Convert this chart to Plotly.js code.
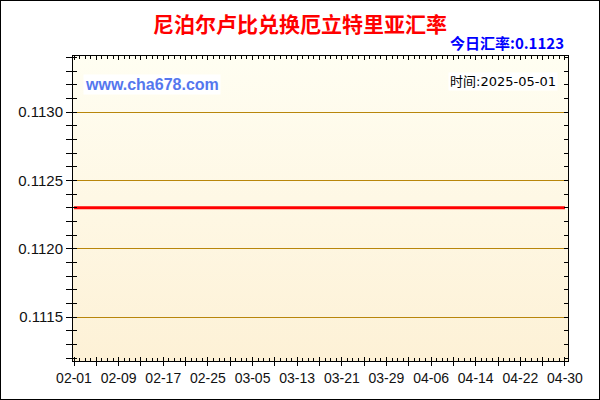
<!DOCTYPE html>
<html>
<head>
<meta charset="utf-8">
<script src="https://cdn.plot.ly/plotly-3.0.1.min.js"></script>
<style>
  body { margin: 0; background: #fff; }
  #chart { width: 598px; height: 398px; border: 1px solid #000; }
</style>
</head>
<body>
<div id="chart"></div>
<script>
// daily NPR -> ERN rate, 2025-02-01 .. 2025-04-30
const dates = [
  '2025-02-01','2025-02-02','2025-02-03','2025-02-04','2025-02-05','2025-02-06','2025-02-07',
  '2025-02-08','2025-02-09','2025-02-10','2025-02-11','2025-02-12','2025-02-13','2025-02-14',
  '2025-02-15','2025-02-16','2025-02-17','2025-02-18','2025-02-19','2025-02-20','2025-02-21',
  '2025-02-22','2025-02-23','2025-02-24','2025-02-25','2025-02-26','2025-02-27','2025-02-28',
  '2025-03-01','2025-03-02','2025-03-03','2025-03-04','2025-03-05','2025-03-06','2025-03-07',
  '2025-03-08','2025-03-09','2025-03-10','2025-03-11','2025-03-12','2025-03-13','2025-03-14',
  '2025-03-15','2025-03-16','2025-03-17','2025-03-18','2025-03-19','2025-03-20','2025-03-21',
  '2025-03-22','2025-03-23','2025-03-24','2025-03-25','2025-03-26','2025-03-27','2025-03-28',
  '2025-03-29','2025-03-30','2025-03-31',
  '2025-04-01','2025-04-02','2025-04-03','2025-04-04','2025-04-05','2025-04-06','2025-04-07',
  '2025-04-08','2025-04-09','2025-04-10','2025-04-11','2025-04-12','2025-04-13','2025-04-14',
  '2025-04-15','2025-04-16','2025-04-17','2025-04-18','2025-04-19','2025-04-20','2025-04-21',
  '2025-04-22','2025-04-23','2025-04-24','2025-04-25','2025-04-26','2025-04-27','2025-04-28',
  '2025-04-29','2025-04-30'
];
const rates = [
  0.1123,0.1123,0.1123,0.1123,0.1123,0.1123,0.1123,0.1123,0.1123,0.1123,
  0.1123,0.1123,0.1123,0.1123,0.1123,0.1123,0.1123,0.1123,0.1123,0.1123,
  0.1123,0.1123,0.1123,0.1123,0.1123,0.1123,0.1123,0.1123,0.1123,0.1123,
  0.1123,0.1123,0.1123,0.1123,0.1123,0.1123,0.1123,0.1123,0.1123,0.1123,
  0.1123,0.1123,0.1123,0.1123,0.1123,0.1123,0.1123,0.1123,0.1123,0.1123,
  0.1123,0.1123,0.1123,0.1123,0.1123,0.1123,0.1123,0.1123,0.1123,0.1123,
  0.1123,0.1123,0.1123,0.1123,0.1123,0.1123,0.1123,0.1123,0.1123,0.1123,
  0.1123,0.1123,0.1123,0.1123,0.1123,0.1123,0.1123,0.1123,0.1123,0.1123,
  0.1123,0.1123,0.1123,0.1123,0.1123,0.1123,0.1123,0.1123,0.1123
];
const titleText = '尼泊尔卢比兑换厄立特里亚汇率';
const todayText = '今日汇率:0.1123';
const timeText = '时间:2025-05-01';
const siteText = 'www.cha678.com';

const DAY = 86400000;
const xRange = ['2025-01-31 19:40', '2025-04-30 13:00'];
const yRange = [0.11118, 0.11341];
const xTickFont = { family: 'Liberation Sans, Arial, sans-serif', size: 14, color: '#111' };
const yTickFont = { family: 'Liberation Sans, Arial, sans-serif', size: 15, color: '#111' };

// gradient plot background as an svg image
const bgSvg = '<svg xmlns="http://www.w3.org/2000/svg" width="10" height="100" preserveAspectRatio="none">' +
  '<defs><linearGradient id="g" x1="0" y1="0" x2="0" y2="1">' +
  '<stop offset="0" stop-color="#FFFEF2"/><stop offset="1" stop-color="#FDF1D6"/>' +
  '</linearGradient></defs><rect width="10" height="100" fill="url(#g)"/></svg>';

const data = [
  {
    x: dates,
    y: rates,
    type: 'scatter',
    mode: 'lines',
    line: { color: '#FF0000', width: 3 },
    hoverinfo: 'x+y'
  },
  {
    // carries the outer tick/label axes
    x: dates,
    y: rates,
    xaxis: 'x2',
    yaxis: 'y2',
    type: 'scatter',
    mode: 'lines',
    opacity: 0,
    hoverinfo: 'skip',
    showlegend: false
  }
];

const layout = {
  width: 598,
  height: 398,
  margin: { l: 72, r: 31, t: 55, b: 38 },
  paper_bgcolor: '#FFFFFF',
  plot_bgcolor: 'rgba(0,0,0,0)',
  showlegend: false,
  title: {
    text: titleText,
    font: { family: 'Noto Sans CJK SC, sans-serif', size: 21, color: '#FF0000', weight: 'bold' },
    x: 0.5,
    xanchor: 'center',
    yref: 'container',
    y: 1 - 24 / 398,
    yanchor: 'middle'
  },
  xaxis: {
    type: 'date',
    range: xRange,
    tick0: '2025-02-01',
    dtick: 4 * DAY,
    ticks: 'inside',
    ticklen: 4,
    tickcolor: '#000',
    showticklabels: false,
    showgrid: false,
    zeroline: false,
    showline: true,
    linecolor: '#000',
    linewidth: 1,
    mirror: 'ticks',
    minor: { tick0: '2025-02-01', dtick: DAY, ticks: 'inside', ticklen: 3, tickcolor: '#000', showgrid: false }
  },
  yaxis: {
    range: yRange,
    tick0: 0.1115,
    dtick: 0.0005,
    ticks: 'inside',
    ticklen: 4,
    tickcolor: '#000',
    showticklabels: false,
    showgrid: true,
    gridcolor: '#B8860B',
    gridwidth: 1,
    zeroline: false,
    showline: true,
    linecolor: '#000',
    linewidth: 1,
    mirror: 'ticks',
    minor: { tick0: 0.1115, dtick: 0.0001, ticks: 'inside', ticklen: 4, tickcolor: '#000', showgrid: false }
  },
  xaxis2: {
    type: 'date',
    overlaying: 'x',
    anchor: 'y2',
    side: 'bottom',
    range: xRange,
    tick0: '2025-02-01',
    dtick: 8 * DAY,
    tickformat: '%m-%d',
    ticks: 'outside',
    ticklen: 4,
    tickcolor: '#000',
    tickfont: xTickFont,
    showgrid: false,
    zeroline: false,
    showline: false,
    minor: { tick0: '2025-02-01', dtick: 4 * DAY, ticks: 'outside', ticklen: 4, tickcolor: '#000', showgrid: false }
  },
  yaxis2: {
    overlaying: 'y',
    anchor: 'x2',
    side: 'left',
    range: yRange,
    tick0: 0.1115,
    dtick: 0.0005,
    tickformat: '.4f',
    ticks: 'outside',
    ticklen: 6,
    tickcolor: '#000',
    tickfont: yTickFont,
    showgrid: false,
    zeroline: false,
    showline: false,
    minor: { tick0: 0.1115, dtick: 0.0001, ticks: 'outside', ticklen: 6, tickcolor: '#000', showgrid: false }
  },
  images: [
    {
      source: 'data:image/svg+xml;charset=utf-8,' + encodeURIComponent(bgSvg),
      xref: 'paper', yref: 'paper',
      x: 0, y: 1, sizex: 1, sizey: 1,
      xanchor: 'left', yanchor: 'top',
      sizing: 'stretch',
      layer: 'below'
    }
  ],
  annotations: [
    {
      text: todayText,
      xref: 'paper', yref: 'paper',
      x: 0.996, y: 1.044,
      xanchor: 'right', yanchor: 'middle',
      showarrow: false,
      font: { family: 'Noto Sans CJK SC, sans-serif', size: 15, color: '#0000FF', weight: 'bold' }
    },
    {
      text: timeText,
      xref: 'paper', yref: 'paper',
      x: 0.98, y: 0.915,
      xanchor: 'right', yanchor: 'middle',
      showarrow: false,
      bgcolor: '#FFFFFF',
      font: { family: 'DejaVu Sans, Noto Sans CJK SC, sans-serif', size: 13, color: '#000' }
    },
    {
      text: siteText,
      xref: 'paper', yref: 'paper',
      x: 0.02, y: 0.908,
      xanchor: 'left', yanchor: 'middle',
      showarrow: false,
      bgcolor: '#FFFFFF',
      font: { family: 'Liberation Sans, Arial, sans-serif', size: 16, color: '#5577EE', weight: 'bold' }
    }
  ]
};

Plotly.newPlot('chart', data, layout, { displayModeBar: false, staticPlot: true });
</script>
</body>
</html>
